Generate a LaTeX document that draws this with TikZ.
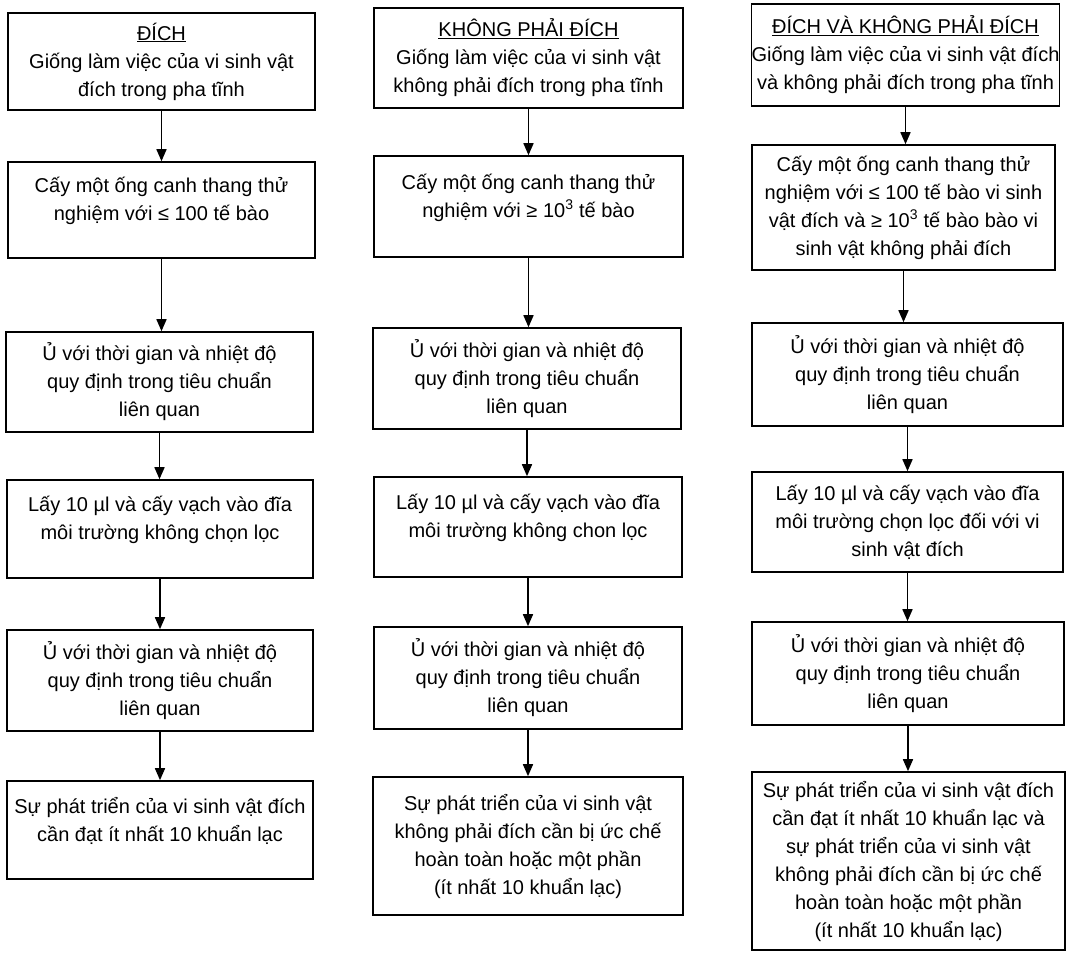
\documentclass[tikz,border=0pt]{standalone}
\usepackage{fontspec}
\setmainfont{Liberation Sans}
\usetikzlibrary{arrows.meta}
\tikzset{
  box/.style={draw, line width=1.6pt, inner sep=0pt, align=center, font=\fontsize{20}{28}\selectfont},
  flow/.style={line width=1.6pt, -{Triangle[width=10pt,length=12pt]}}
}
\newcommand{\bx}[6]{% name, x1, x2, y1, y2, text
  \node[box, minimum width=#3-#2, minimum height=#5-#4] (#1) at ({(#2+#3)/2},{-(#4+#5)/2}) {#6};}
\begin{document}
\begin{tikzpicture}[x=1pt,y=1pt]
\useasboundingbox (0,0) rectangle (1069,-958);
% column 1
\bx{a1}{8}{315}{13}{110}{\underline{ĐÍCH}\\Giống làm việc của vi sinh vật\\đích trong pha tĩnh}
\bx{a2}{8}{315}{162}{258}{Cấy một ống canh thang thử\\nghiệm với ≤ 100 tế bào\\[-6pt]\mbox{}}
\bx{a3}{6}{313}{332}{432}{Ủ với thời gian và nhiệt độ\\quy định trong tiêu chuẩn\\liên quan}
\bx{a4}{7}{313}{480}{578}{Lấy 10 µl và cấy vạch vào đĩa\\môi trường không chọn lọc\\[-6pt]\mbox{}}
\bx{a5}{7}{313}{630}{731}{Ủ với thời gian và nhiệt độ\\quy định trong tiêu chuẩn\\liên quan}
\bx{a6}{7}{313}{781}{879}{Sự phát triển của vi sinh vật đích\\cần đạt ít nhất 10 khuẩn lạc\\[-6pt]\mbox{}}
% column 2
\bx{b1}{374}{683}{8}{108}{\underline{KHÔNG PHẢI ĐÍCH}\\Giống làm việc của vi sinh vật\\không phải đích trong pha tĩnh}
\bx{b2}{374}{683}{156}{257}{Cấy một ống canh thang thử\\nghiệm với ≥ 10\textsuperscript{3} tế bào\\[-6pt]\mbox{}}
\bx{b3}{373}{681}{328}{429}{Ủ với thời gian và nhiệt độ\\quy định trong tiêu chuẩn\\liên quan}
\bx{b4}{374}{682}{477}{577}{Lấy 10 µl và cấy vạch vào đĩa\\môi trường không chon lọc\\[-6pt]\mbox{}}
\bx{b5}{374}{682}{627}{729}{Ủ với thời gian và nhiệt độ\\quy định trong tiêu chuẩn\\liên quan}
\bx{b6}{373}{683}{777}{915}{Sự phát triển của vi sinh vật\\không phải đích cần bị ức chế\\hoàn toàn hoặc một phần\\(ít nhất 10 khuẩn lạc)}
% column 3
\bx{c1}{755}{1056}{4}{106}{\underline{ĐÍCH VÀ KHÔNG PHẢI ĐÍCH}\\Giống làm việc của vi sinh vật đích\\và không phải đích trong pha tĩnh}
\bx{c2}{752}{1055}{145}{270}{Cấy một ống canh thang thử\\nghiệm với ≤ 100 tế bào vi sinh\\vật đích và ≥ 10\textsuperscript{3} tế bào bào vi\\sinh vật không phải đích}
\bx{c3}{752}{1063}{323}{426}{Ủ với thời gian và nhiệt độ\\quy định trong tiêu chuẩn\\liên quan}
\bx{c4}{752}{1063}{472}{572}{Lấy 10 µl và cấy vạch vào đĩa\\môi trường chọn lọc đối với vi\\sinh vật đích}
\bx{c5}{752}{1064}{622}{725}{Ủ với thời gian và nhiệt độ\\quy định trong tiêu chuẩn\\liên quan}
\bx{c6}{752}{1065}{772}{950}{Sự phát triển của vi sinh vật đích\\cần đạt ít nhất 10 khuẩn lạc và\\sự phát triển của vi sinh vật\\không phải đích cần bị ức chế\\hoàn toàn hoặc một phần\\(ít nhất 10 khuẩn lạc)}
% arrows
\foreach \p/\q in {a1/a2,a2/a3,a3/a4,a4/a5,a5/a6,b1/b2,b2/b3,b3/b4,b4/b5,b5/b6,c1/c2,c2/c3,c3/c4,c4/c5,c5/c6}
  \draw[flow] (\p.south) -- (\p.south |- \q.north);
\end{tikzpicture}
\end{document}
